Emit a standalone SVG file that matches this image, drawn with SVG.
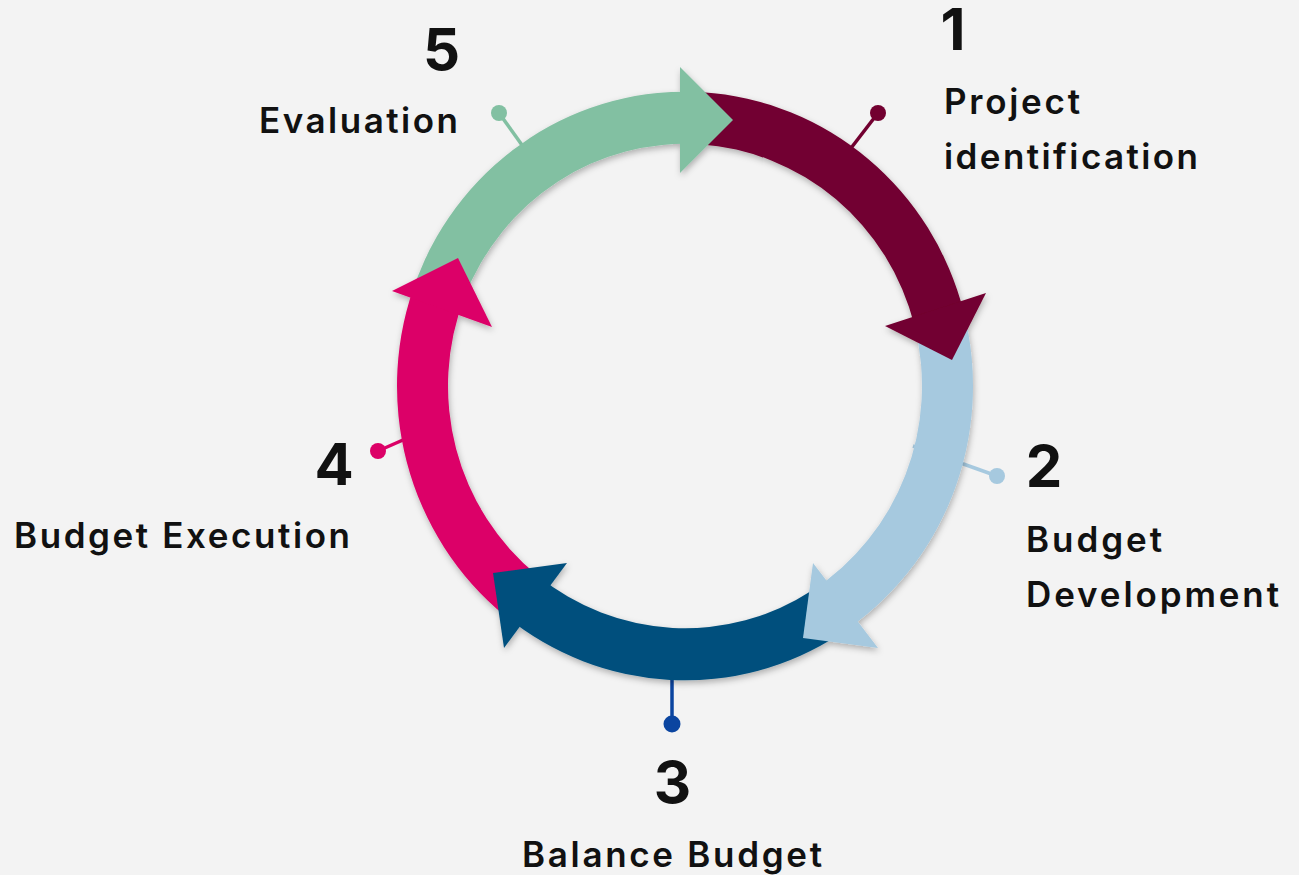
<svg xmlns="http://www.w3.org/2000/svg" width="1299" height="875" viewBox="0 0 1299 875">
  <defs>
    <filter id="shadow" x="-10%" y="-10%" width="120%" height="120%">
      <feDropShadow dx="1" dy="3" stdDeviation="3" flood-color="#000" flood-opacity="0.28"/>
    </filter>
    <style>
      .num { font-family: Inter, "Liberation Sans", sans-serif; font-weight: 700; font-size: 58px; fill: #111; text-anchor: middle; }
      .lbl { font-family: Inter, "Liberation Sans", sans-serif; font-weight: 600; font-size: 35px; fill: #111; }
      .tick { stroke-width: 3.5; fill: none; }
    </style>
  </defs>
  <rect width="1299" height="875" fill="#F3F3F3"/>

  <g id="node-1">
    <line class="tick" x1="848" y1="152" x2="878" y2="113" stroke="#720030"/>
    <circle cx="878" cy="113" r="8" fill="#720030"/>
    <text class="num" x="953" y="50">1</text>
    <text class="lbl" x="944" y="114" textLength="136" lengthAdjust="spacing">Project</text>
    <text class="lbl" x="944" y="169" textLength="254" lengthAdjust="spacing">identification</text>
  </g>
  <g id="node-2">
    <line class="tick" x1="913" y1="446" x2="997" y2="476" stroke="#A6C9DF"/>
    <circle cx="997" cy="476" r="8" fill="#A6C9DF"/>
    <text class="num" x="1044" y="487">2</text>
    <text class="lbl" x="1026" y="552" textLength="136" lengthAdjust="spacing">Budget</text>
    <text class="lbl" x="1026" y="607" textLength="253" lengthAdjust="spacing">Development</text>
  </g>
  <g id="node-3">
    <line class="tick" x1="672" y1="670" x2="672" y2="724" stroke="#0B45A0"/>
    <circle cx="672" cy="724" r="8.5" fill="#0B45A0"/>
    <text class="num" x="672.5" y="803">3</text>
    <text class="lbl" x="522" y="867" textLength="300" lengthAdjust="spacing">Balance Budget</text>
  </g>
  <g id="node-4">
    <line class="tick" x1="412" y1="436" x2="378" y2="451" stroke="#DC0067"/>
    <circle cx="378" cy="451" r="8" fill="#DC0067"/>
    <text class="num" x="334" y="485">4</text>
    <text class="lbl" x="14" y="548" textLength="336" lengthAdjust="spacing">Budget Execution</text>
  </g>
  <g id="node-5">
    <line class="tick" x1="527" y1="152" x2="499" y2="113" stroke="#82C0A2"/>
    <circle cx="499" cy="113" r="8" fill="#82C0A2"/>
    <text class="num" x="441.5" y="70">5</text>
    <text class="lbl" x="259" y="133" textLength="199" lengthAdjust="spacing">Evaluation</text>
  </g>

  <g id="connectors" filter="url(#shadow)">
    <g transform="translate(685,386) scale(1,1.022)">
      <path id="arc-5" fill="#82C0A2" d="M -267.96 -105.55 A 288 288 0 0 1 17.58 -287.46 L 14.47 -236.56 A 237 237 0 0 0 -220.51 -86.86 Z"/>
      <path id="arc-1" fill="#720030" d="M 17.58 -287.46 A 288 288 0 0 1 278.83 -72.11 L 229.45 -59.34 A 237 237 0 0 0 14.47 -236.56 Z"/>
      <path id="arc-2" fill="#A6C9DF" d="M 278.83 -72.11 A 288 288 0 0 1 154.74 242.90 L 127.34 199.88 A 237 237 0 0 0 229.45 -59.34 Z"/>
      <path id="arc-3" fill="#00507D" d="M 154.74 242.90 A 288 288 0 0 1 -179.28 225.39 L -147.54 185.48 A 237 237 0 0 0 127.34 199.88 Z"/>
      <path id="arc-4" fill="#DC0067" d="M -179.28 225.39 A 288 288 0 0 1 -267.96 -105.55 L -220.51 -86.86 A 237 237 0 0 0 -147.54 185.48 Z"/>
    </g>
    <polygon id="head-5" fill="#82C0A2" points="680,67 733,120 680,173"/>
    <polygon id="head-1" fill="#720030" points="986,293 952,360 885,326"/>
    <polygon id="head-2" fill="#A6C9DF" points="878,648 803,638 813,563"/>
    <polygon id="head-3" fill="#00507D" points="504,648 493,573 567,563"/>
    <polygon id="head-4" fill="#DC0067" points="392,291 458,258 492,327"/>
  </g>
</svg>
